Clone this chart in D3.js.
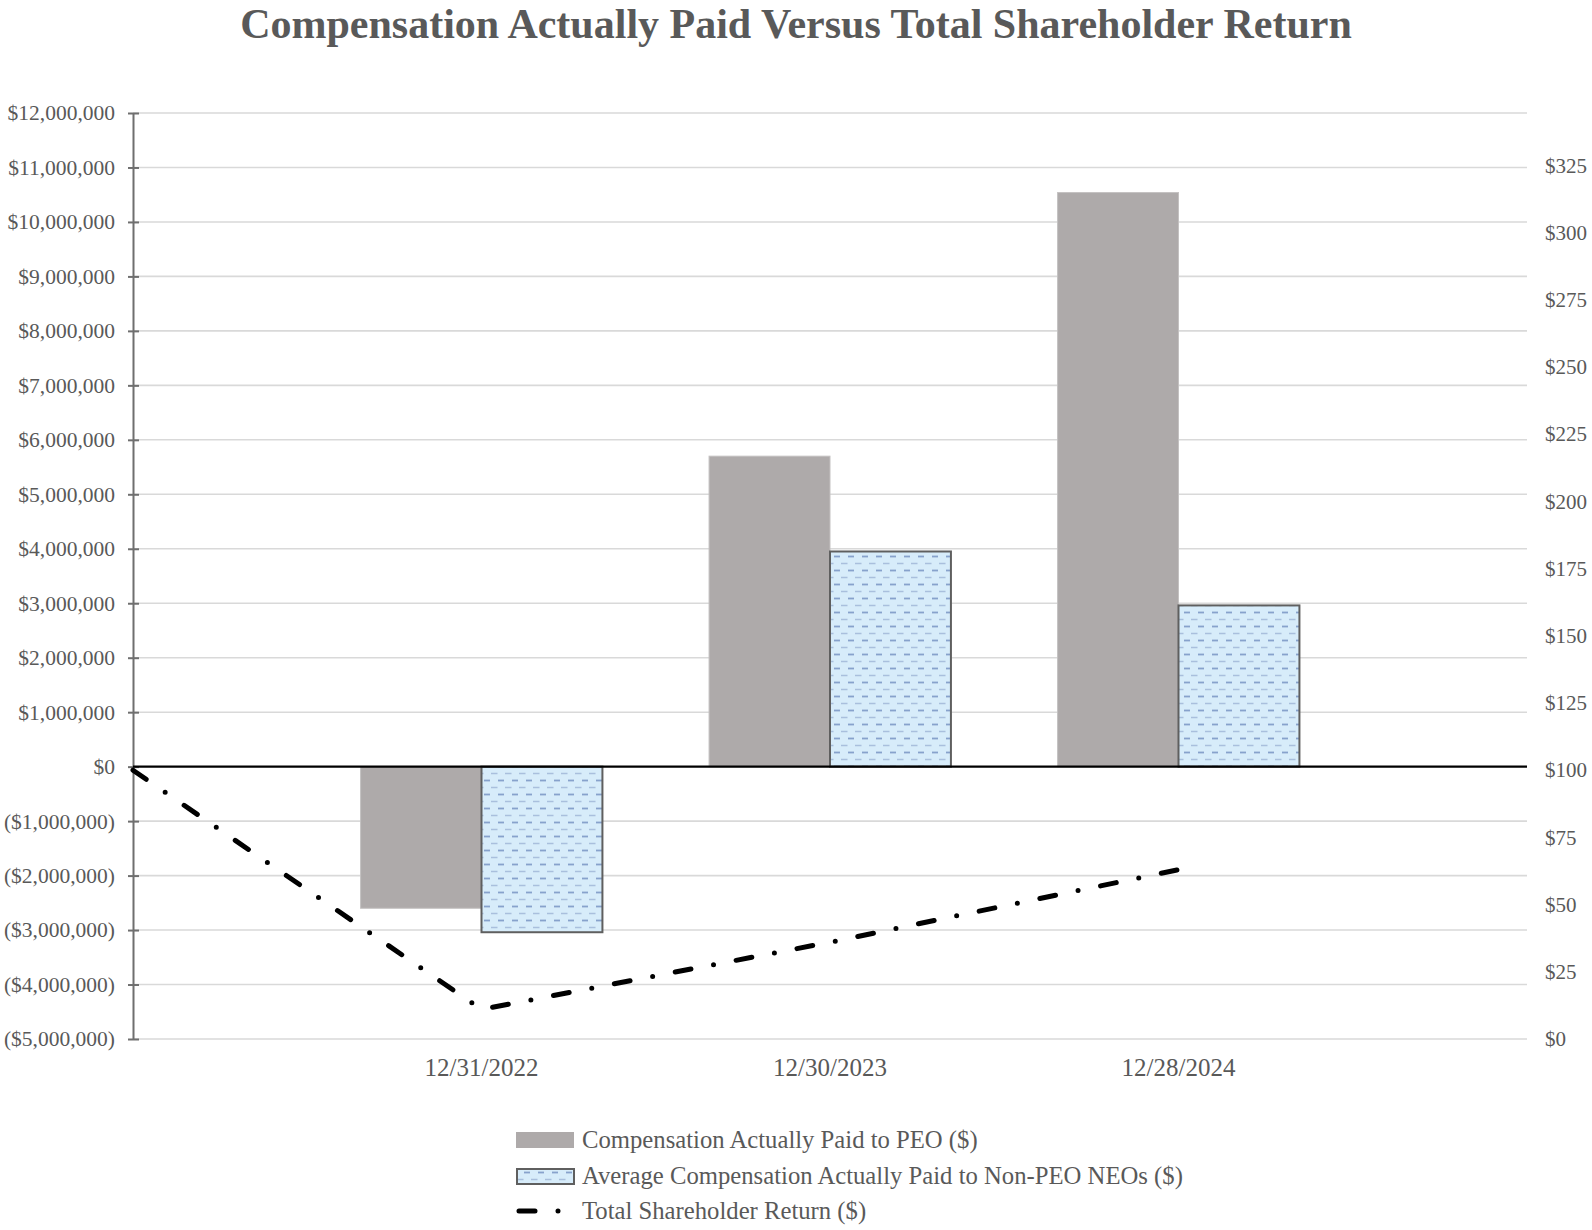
<!DOCTYPE html>
<html>
<head>
<meta charset="utf-8">
<script src="https://cdn.jsdelivr.net/npm/d3@7"></script>
<style>
    body { margin: 0; background: #fff; }
    text { font-family: "Liberation Serif", "Times New Roman", serif; fill: #595959; }
</style>
</head>
<body>
<svg id="chart" width="1592" height="1230"></svg>
<script>
//data
var xLabels = ["", "12/31/2022", "12/30/2023", "12/28/2024", ""];
var years = ["12/31/2022", "12/30/2023", "12/28/2024"];
var peoCap = [-2600000, 5700000, 10540000];
var neoCap = [-3040000, 3950000, 2960000];
var tsrValues = [100, 11, 36, 63];
var leftTicks = d3.range(-5000000, 12000001, 1000000);
var rightTicks = d3.range(0, 326, 25);
var legendNames = ["Compensation Actually Paid to PEO ($)",
    "Average Compensation Actually Paid to Non-PEO NEOs ($)",
    "Total Shareholder Return ($)"];

(function () {
    //plot box
    var pLeft = 133, pRight = 1527, pTop = 113, pBottom = 1039;

    var svg = d3.select("#chart");

    //pattern for the non-PEO bars: staggered rows of short dashes
    var defs = svg.append("defs");
    var pat = defs.append("pattern")
        .attr("id", "dashes")
        .attr("patternUnits", "userSpaceOnUse")
        .attr("width", 14).attr("height", 14);
    pat.append("rect").attr("width", 14).attr("height", 14).attr("fill", "#d7ecfa");
    pat.append("line").attr("x1", 1).attr("x2", 7.5).attr("y1", 3.5).attr("y2", 3.5)
        .attr("stroke", "#a9bfdd").attr("stroke-width", 1.5);
    pat.append("line").attr("x1", 8).attr("x2", 14.5).attr("y1", 10.5).attr("y2", 10.5)
        .attr("stroke", "#87a2cc").attr("stroke-width", 1.8);

    //scales
    var x = d3.scalePoint().domain(d3.range(xLabels.length)).range([pLeft, pRight]);
    var y = d3.scaleLinear().domain([-5000000, 12000000]).range([pBottom, pTop]);
    var y2 = d3.scaleLinear().domain([0, 344.5]).range([pBottom, pTop]);
    var bw = x.step() * 0.347;

    var money = function (v) {
        if (v < 0) return "($" + d3.format(",")(-v) + ")";
        return "$" + d3.format(",")(v);
    };

    //title
    svg.append("text")
        .attr("x", 796).attr("y", 38)
        .attr("text-anchor", "middle")
        .attr("font-size", "42px")
        .attr("font-weight", "bold")
        .text("Compensation Actually Paid Versus Total Shareholder Return");

    //gridlines
    svg.append("g").attr("class", "grid")
        .selectAll("line").data(leftTicks.filter(function (d) { return d != 0; }))
        .enter().append("line")
        .attr("x1", pLeft).attr("x2", pRight)
        .attr("y1", function (d) { return y(d); })
        .attr("y2", function (d) { return y(d); })
        .attr("stroke", "#d9d9d9").attr("stroke-width", 1.6);

    //left axis
    var yAxis = svg.append("g")
        .attr("transform", "translate(" + pLeft + ",0)")
        .call(d3.axisLeft(y).tickValues(leftTicks).tickFormat(money)
            .tickSizeOuter(0).tickSizeInner(5).tickPadding(13));
    yAxis.select(".domain").attr("stroke", "#6f6f6f").attr("stroke-width", 2);
    yAxis.selectAll(".tick line").attr("x1", 6).attr("x2", -5)
        .attr("stroke", "#6f6f6f").attr("stroke-width", 2);
    yAxis.selectAll(".tick text")
        .attr("font-size", "21.5px")
        .attr("font-family", "Liberation Serif")
        .attr("fill", "#595959");

    //right axis
    var yAxis2 = svg.append("g")
        .attr("transform", "translate(" + pRight + ",0)")
        .call(d3.axisRight(y2).tickValues(rightTicks).tickFormat(function (d) { return "$" + d; })
            .tickSize(0).tickPadding(18));
    yAxis2.select(".domain").remove();
    yAxis2.selectAll(".tick text")
        .attr("font-size", "21px")
        .attr("font-family", "Liberation Serif")
        .attr("fill", "#595959");

    //bars: PEO
    svg.append("g").selectAll("rect").data(peoCap)
        .enter().append("rect")
        .attr("x", function (d, i) { return x(i + 1) - bw; })
        .attr("width", bw)
        .attr("y", function (d) { return y(Math.max(0, d)); })
        .attr("height", function (d) { return Math.abs(y(d) - y(0)); })
        .attr("fill", "#aeaaaa")
        .attr("stroke", "#c4c1c1").attr("stroke-width", 1);

    //bars: non-PEO NEOs
    svg.append("g").selectAll("rect").data(neoCap)
        .enter().append("rect")
        .attr("x", function (d, i) { return x(i + 1); })
        .attr("width", bw)
        .attr("y", function (d) { return y(Math.max(0, d)); })
        .attr("height", function (d) { return Math.abs(y(d) - y(0)); })
        .attr("fill", "url(#dashes)")
        .attr("stroke", "#5f5f5f").attr("stroke-width", 2);

    //zero line
    svg.append("line")
        .attr("x1", pLeft).attr("x2", pRight)
        .attr("y1", y(0)).attr("y2", y(0))
        .attr("stroke", "#000").attr("stroke-width", 2.2);

    //x labels
    svg.append("g").selectAll("text").data(xLabels)
        .enter().append("text")
        .attr("x", function (d, i) { return x(i); })
        .attr("y", 1076)
        .attr("text-anchor", "middle")
        .attr("font-size", "25px")
        .text(function (d) { return d; });

    //TSR line
    var line = d3.line()
        .x(function (d, i) { return x(i); })
        .y(function (d) { return y2(d); });
    svg.append("path")
        .datum(tsrValues)
        .attr("d", line)
        .attr("fill", "none")
        .attr("stroke", "#000")
        .attr("stroke-width", 5)
        .attr("stroke-linecap", "round")
        .attr("stroke-dasharray", "16,23,0,23");

    //legend
    var legend = svg.append("g").attr("transform", "translate(516,0)");
    var rows = [1140, 1176, 1211];
    legend.append("rect")
        .attr("x", 0).attr("y", rows[0] - 8).attr("width", 58).attr("height", 16)
        .attr("fill", "#aeaaaa");
    legend.append("rect")
        .attr("x", 1).attr("y", rows[1] - 7).attr("width", 57).attr("height", 15)
        .attr("fill", "url(#dashes)").attr("stroke", "#5f5f5f").attr("stroke-width", 2);
    legend.append("line")
        .attr("x1", 3).attr("x2", 58).attr("y1", rows[2]).attr("y2", rows[2])
        .attr("stroke", "#000").attr("stroke-width", 5)
        .attr("stroke-linecap", "round")
        .attr("stroke-dasharray", "16,23,0,23");
    legend.selectAll("text.lab").data(legendNames)
        .enter().append("text")
        .attr("class", "lab")
        .attr("x", 66)
        .attr("y", function (d, i) { return rows[i] + 8; })
        .attr("font-size", "24.7px")
        .text(function (d) { return d; });
})();
</script>
</body>
</html>
